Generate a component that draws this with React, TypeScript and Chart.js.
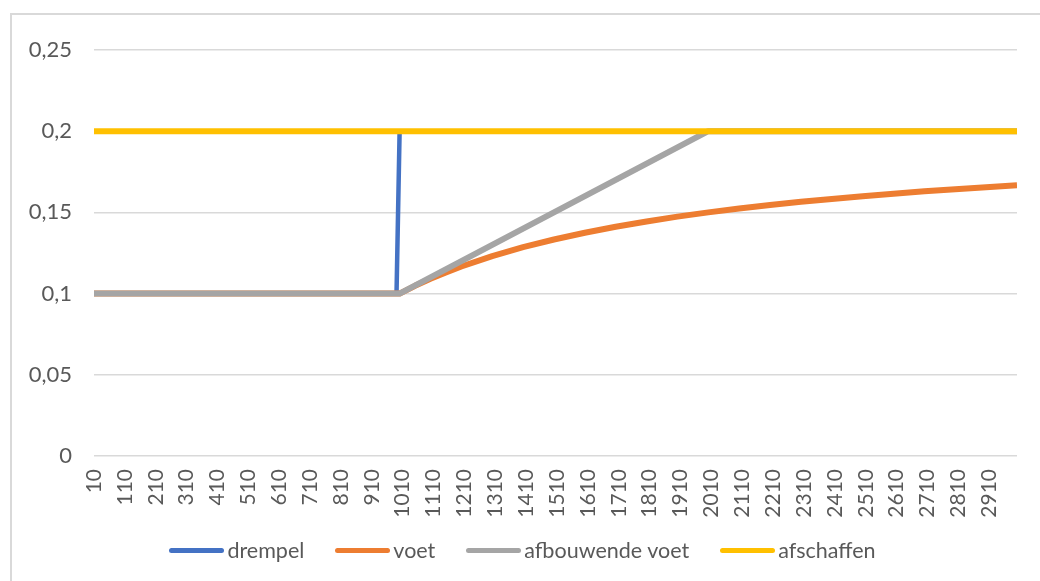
import React, { useEffect, useRef } from "react";
import { Chart, registerables } from "chart.js";

Chart.register(...registerables);

// x tick labels (every 10th category of 10..3000)
const X_TICK_LABELS = [
  10, 110, 210, 310, 410, 510, 610, 710, 810, 910, 1010, 1110, 1210, 1310, 1410,
  1510, 1610, 1710, 1810, 1910, 2010, 2110, 2210, 2310, 2410, 2510, 2610, 2710,
  2810, 2910,
];
const X_MIN = 10;
const X_MAX = 3000;
const Y_TICKS = [0, 0.05, 0.1, 0.15, 0.2, 0.25];

const SERIES_NAMES = ["drempel", "voet", "afbouwende voet", "afschaffen"];
const SERIES_COLORS = ["#4472C4", "#ED7D31", "#A5A5A5", "#FFC000"];

const DREMPEL_X = [10, 990, 1000, 3000];
const DREMPEL_Y = [0.1, 0.1, 0.2, 0.2];

const VOET_X = [
  10, 1000, 1050, 1100, 1150, 1200, 1300, 1400, 1500, 1600, 1700, 1800, 1900,
  2000, 2100, 2200, 2300, 2400, 2500, 2600, 2700, 2800, 2900, 3000,
];
const VOET_Y = [
  0.1, 0.1, 0.1048, 0.1091, 0.113, 0.1167, 0.1231, 0.1286, 0.1333, 0.1375,
  0.1412, 0.1444, 0.1474, 0.15, 0.1524, 0.1545, 0.1565, 0.1583, 0.16, 0.1615,
  0.163, 0.1643, 0.1655, 0.1667,
];

const AFBOUW_X = [10, 1000, 2000, 3000];
const AFBOUW_Y = [0.1, 0.1, 0.2, 0.2];

const AFSCHAFFEN_X = [10, 3000];
const AFSCHAFFEN_Y = [0.2, 0.2];

const FONT = "Lato, 'Open Sans', sans-serif";
const TEXT_COLOR = "#595959";

const toPoints = (xs: number[], ys: number[]) => xs.map((x, i) => ({ x, y: ys[i] }));

export default function App() {
  const canvasRef = useRef<HTMLCanvasElement | null>(null);

  useEffect(() => {
    const canvas = canvasRef.current;
    if (!canvas) return;
    const seriesData = [
      toPoints(DREMPEL_X, DREMPEL_Y),
      toPoints(VOET_X, VOET_Y),
      toPoints(AFBOUW_X, AFBOUW_Y),
      toPoints(AFSCHAFFEN_X, AFSCHAFFEN_Y),
    ];
    const widths = [4.5, 6, 6, 6];
    const orders = [3, 2, 1, 0];
    const chart = new Chart(canvas, {
      type: "line",
      data: {
        datasets: SERIES_NAMES.map((name, i) => ({
          label: name,
          data: seriesData[i],
          borderColor: SERIES_COLORS[i],
          backgroundColor: SERIES_COLORS[i],
          borderWidth: widths[i],
          pointRadius: 0,
          tension: 0,
          borderCapStyle: "butt" as const,
          borderJoinStyle: "round" as const,
          order: orders[i],
        })),
      },
      options: {
        animation: false,
        responsive: false,
        maintainAspectRatio: false,
        layout: { padding: { top: 50, right: 23, left: 0, bottom: 0 } },
        plugins: {
          legend: { display: false },
          tooltip: { enabled: false },
        },
        scales: {
          x: {
            type: "linear",
            min: X_MIN,
            max: X_MAX,
            grid: { display: false, drawTicks: false },
            border: { display: false },
            afterBuildTicks: (scale: any) => {
              scale.ticks = X_TICK_LABELS.map((v) => ({ value: v }));
            },
            afterFit: (scale: any) => {
              scale.height = 125;
            },
            ticks: {
              autoSkip: false,
              minRotation: 90,
              maxRotation: 90,
              padding: 13,
              color: TEXT_COLOR,
              font: { family: FONT, size: 21 },
              callback: (v: any) => String(v),
            },
          },
          y: {
            type: "linear",
            min: 0,
            max: 0.25,
            grid: { color: "#d9d9d9", lineWidth: 1.5, drawTicks: false },
            border: { display: false },
            afterBuildTicks: (scale: any) => {
              scale.ticks = Y_TICKS.map((v) => ({ value: v }));
            },
            afterFit: (scale: any) => {
              scale.width = 94;
            },
            ticks: {
              padding: 22,
              color: TEXT_COLOR,
              font: { family: FONT, size: 22 },
              callback: (v: any) => String(v).replace(".", ","),
            },
          },
        },
      },
    });
    return () => chart.destroy();
  }, []);

  return (
    <div
      style={{
        position: "fixed",
        left: 0,
        top: 0,
        width: 1040,
        height: 581,
        overflow: "hidden",
        background: "#fff",
      }}
    >
      <div
        style={{
          position: "absolute",
          left: 10,
          top: 13,
          width: 1100,
          height: 700,
          border: "2px solid #d9d9d9",
        }}
      />
      <canvas
        ref={canvasRef}
        width={1040}
        height={581}
        style={{ position: "absolute", left: 0, top: 0, width: 1040, height: 581 }}
      />
      <div
        style={{
          position: "absolute",
          left: 0,
          top: 536,
          width: 1045,
          height: 28,
          display: "flex",
          justifyContent: "center",
          alignItems: "center",
          gap: 31,
          fontFamily: FONT,
          fontSize: 21.5,
          color: TEXT_COLOR,
        }}
      >
        {SERIES_NAMES.map((name, i) => (
          <div key={name} style={{ display: "flex", alignItems: "center", gap: 3 }}>
            <span
              style={{
                display: "inline-block",
                width: 55,
                height: 5,
                borderRadius: 3,
                background: SERIES_COLORS[i],
              }}
            />
            <span style={{ lineHeight: "28px" }}>{name}</span>
          </div>
        ))}
      </div>
    </div>
  );
}
